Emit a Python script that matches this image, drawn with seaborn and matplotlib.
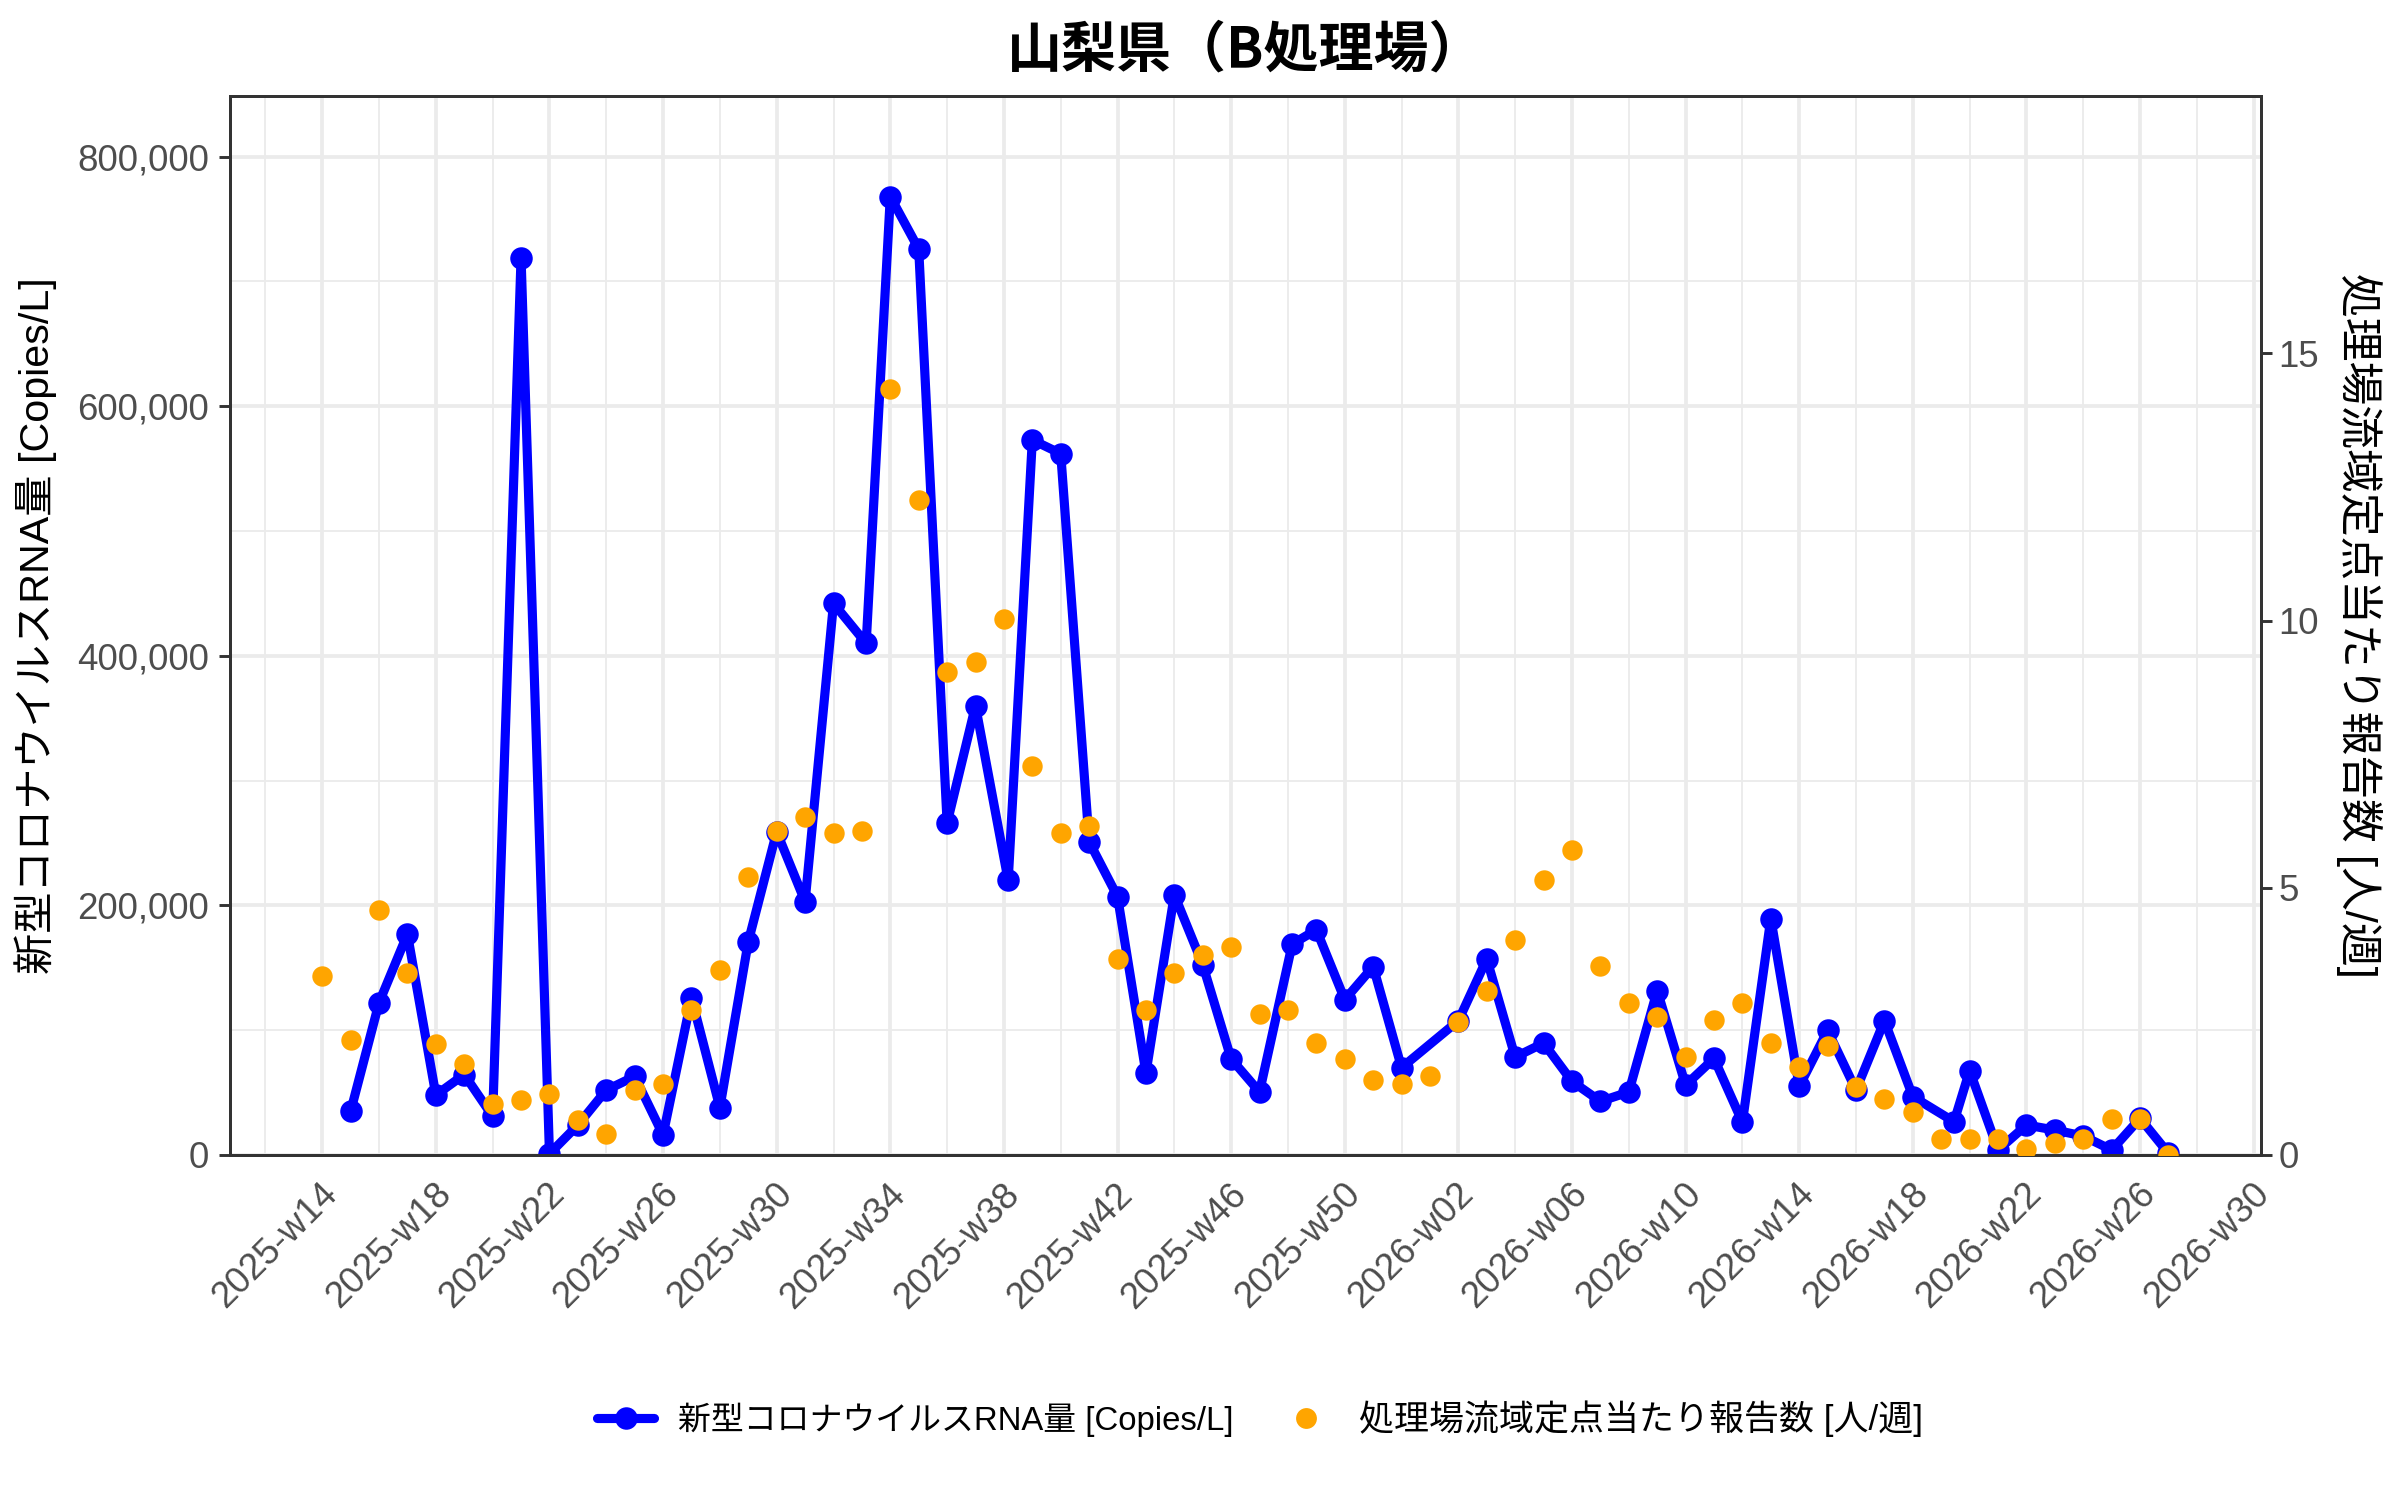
import matplotlib
matplotlib.use("Agg")
import matplotlib.pyplot as plt
import matplotlib.transforms as mtransforms
import seaborn as sns
import pandas as pd
from matplotlib.lines import Line2D
from matplotlib.ticker import MultipleLocator, FuncFormatter

sns.set_theme(style="white")
plt.rcParams["font.family"] = ["Liberation Sans", "Noto Sans CJK JP", "DejaVu Sans"]
plt.rcParams["axes.unicode_minus"] = False
JP = ["Noto Sans CJK JP", "DejaVu Sans"]

# week index: 0 = 2025-w14 (2025 has 52 ISO weeks -> 39 = 2026-w01)
tick_pos = [0, 4, 8, 12, 16, 20, 24, 28, 32, 36, 40, 44, 48, 52, 56, 60, 64, 68]
tick_labels = ["2025-w14", "2025-w18", "2025-w22", "2025-w26", "2025-w30", "2025-w34",
               "2025-w38", "2025-w42", "2025-w46", "2025-w50", "2026-w02", "2026-w06",
               "2026-w10", "2026-w14", "2026-w18", "2026-w22", "2026-w26", "2026-w30"]

# 新型コロナウイルスRNA量 [Copies/L]
rna_week = [1, 2, 3, 4, 5, 6, 7, 8, 9, 10,
            11, 12, 13, 14, 15, 16, 17, 18, 19.15, 20,
            21, 22, 23, 24.15, 25, 26, 27, 28, 29, 30,
            31, 32, 33, 34.15, 35, 36, 37, 38,
            40, 41, 42, 43, 44, 45, 46, 47, 48, 49,
            50, 51, 52, 53, 54, 55, 56,
            57.45, 58, 59, 60, 61, 62, 63, 64, 65]
rna_copies = [35000, 122000, 177000, 48000, 64500, 31000, 719000, 1000, 24000, 52000,
              63000, 16000, 126000, 38000, 171000, 259000, 203000, 442000, 410000, 768000,
              726000, 266000, 360000, 220000, 573000, 562000, 251000, 207000, 65600, 208500,
              152500, 77000, 50500, 169000, 180500, 124500, 151000, 70000,
              107600, 157000, 78500, 89700, 59000, 43000, 50500, 131700, 56000, 77400,
              26300, 189500, 55000, 99800, 52000, 107600, 46800,
              26700, 67600, 4000, 24000, 20000, 15200, 4000, 29400, 1300]

# 処理場流域定点当たり報告数 [人/週]
rep_week = list(range(66))
reports = [3.34, 2.16, 4.58, 3.41, 2.08, 1.70, 0.96, 1.03, 1.14, 0.65,
           0.40, 1.21, 1.33, 2.71, 3.46, 5.21, 6.07, 6.33, 6.02, 6.07,
           14.34, 12.26, 9.04, 9.22, 10.02, 7.28, 6.02, 6.15, 3.67, 2.71,
           3.41, 3.74, 3.90, 2.64, 2.71, 2.09, 1.79, 1.41, 1.33, 1.47,
           2.49, 3.07, 4.03, 5.14, 5.70, 3.53, 2.84, 2.59, 1.83, 2.52,
           2.84, 2.09, 1.65, 2.03, 1.28, 1.04, 0.80, 0.29, 0.29, 0.29,
           0.11, 0.23, 0.30, 0.68, 0.68, 0.0]

sec_factor = 42830  # copies/L per 1 report on the right axis
y_top = 848600

rna_df = pd.DataFrame({"week": rna_week, "copies": rna_copies})
rep_df = pd.DataFrame({"week": rep_week, "reports": reports})

BLUE = "#0000FF"
ORANGE = "#FFA500"
lab_rna = "新型コロナウイルスRNA量 [Copies/L]"
lab_rep = "処理場流域定点当たり報告数 [人/週]"

fig, ax = plt.subplots(figsize=(8, 5), dpi=300)
fig.subplots_adjust(left=0.0958, right=0.942, top=0.936, bottom=0.23)

sns.lineplot(data=rna_df, x="week", y="copies", ax=ax, color=BLUE, linewidth=2.2,
             marker="o", markersize=5.4, markeredgewidth=0, sort=False, legend=False)

ax2 = ax.twinx()
sns.scatterplot(data=rep_df, x="week", y="reports", ax=ax2, color=ORANGE, s=24,
                linewidth=0, legend=False, zorder=3)

ax.set_xlim(-3.25, 68.25)
ax.set_ylim(0, y_top)
ax2.set_ylim(0, y_top / sec_factor)

ax.xaxis.set_minor_locator(MultipleLocator(2))
ax.yaxis.set_major_locator(MultipleLocator(200000))
ax.yaxis.set_minor_locator(MultipleLocator(100000))
ax.yaxis.set_major_formatter(FuncFormatter(lambda v, p: f"{int(v):,}"))
ax2.set_yticks([0, 5, 10, 15])

ax.set_axisbelow(True)
ax.grid(which="major", color="#EBEBEB", linewidth=0.9)
ax.grid(which="minor", color="#EBEBEB", linewidth=0.45)

for a in (ax, ax2):
    for s in a.spines.values():
        s.set_color("#333333")
        s.set_linewidth(0.7)
    a.tick_params(which="major", length=2.75, width=0.7, color="#333333",
                  labelcolor="#4D4D4D", labelsize=8.8)
    a.tick_params(which="minor", length=0)
ax.tick_params(axis="x", pad=5.4)
ax.tick_params(axis="y", pad=2.2)
ax2.tick_params(axis="y", pad=1.5)

# x tick labels last, so tick_params does not reset the shift
ax.set_xticks(tick_pos)
ax.set_xticklabels(tick_labels, rotation=45, ha="right", va="center",
                   rotation_mode="anchor")
shift = mtransforms.ScaledTranslation(2.4 / 72, 0, fig.dpi_scale_trans)
for lbl in ax.get_xticklabels():
    lbl.set_transform(lbl.get_transform() + shift)

ax.set_xlabel("")
ax.set_ylabel(lab_rna, fontsize=9.9, color="black", labelpad=5)
ax2.set_ylabel(lab_rep, fontsize=10.5, color="black", rotation=270, labelpad=15)
ax.set_title("山梨県（B処理場）", fontsize=13.2, fontweight="bold", pad=7,
             color="black", family=JP)

handles = [
    Line2D([], [], color=BLUE, linewidth=2.2, marker="o", markersize=5.4, markeredgewidth=0),
    Line2D([], [], color=ORANGE, linestyle="none", marker="o", markersize=5.0, markeredgewidth=0),
]
leg = fig.legend(handles, [lab_rna, lab_rep], loc="center", bbox_to_anchor=(0.525, 0.054),
                 ncol=2, frameon=False, handlelength=1.66, handletextpad=0.7,
                 columnspacing=1.3, fontsize=8.2)
leg.get_texts()[0].set_fontsize(7.9)
leg.get_texts()[1].set_fontsize(8.4)
for t in leg.get_texts():
    t.set_color("black")

fig.savefig("out.png", dpi=300)
